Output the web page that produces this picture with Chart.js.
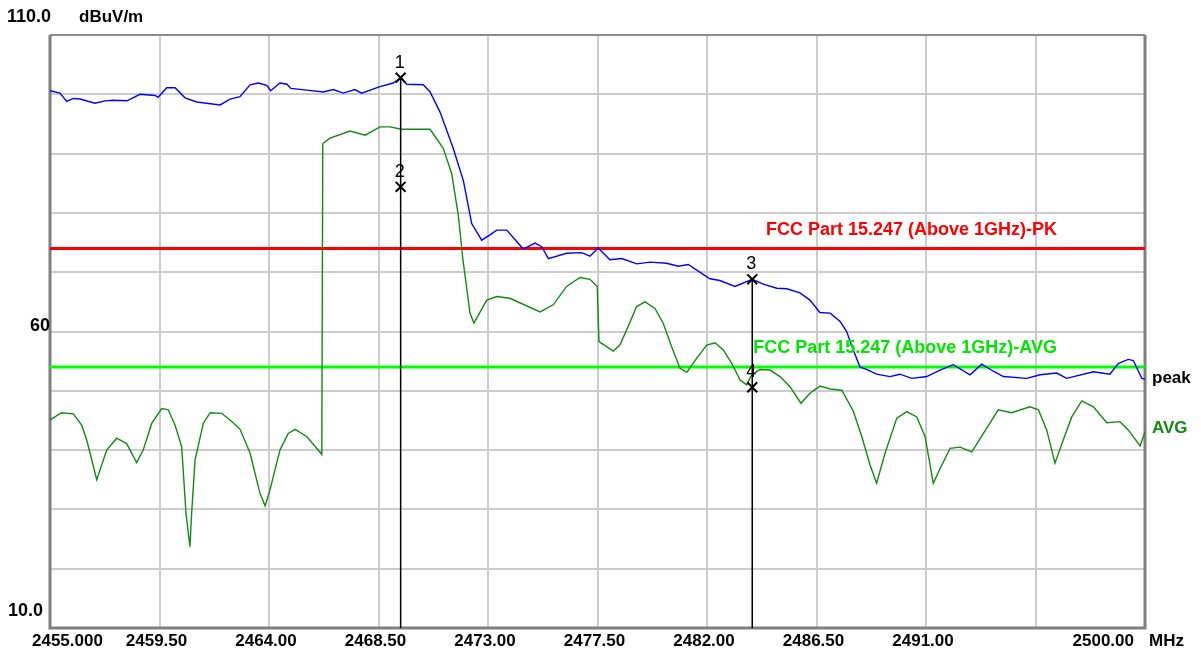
<!DOCTYPE html>
<html>
<head>
<meta charset="utf-8">
<script src="https://cdn.jsdelivr.net/npm/chart.js@4.4.1/dist/chart.umd.min.js"></script>
<style>
  html, body { margin: 0; padding: 0; background: #fff; }
  #wrap { width: 1201px; height: 655px; }
</style>
</head>
<body>
<div id="wrap"><canvas id="scan" width="1201" height="655"></canvas></div>
<script>
// peak detector trace (MHz / dBuV/m)
const peakFreq = [
  2455.00, 2455.41, 2455.69, 2455.96, 2456.23, 2456.85, 2457.26, 2457.59, 2458.16, 2458.70,
  2459.32, 2459.44, 2459.80, 2460.14, 2460.55, 2461.03, 2461.99, 2462.40, 2462.81, 2463.22,
  2463.56, 2463.91, 2464.07, 2464.45, 2464.74, 2464.90, 2465.55, 2466.23, 2466.64, 2467.05,
  2467.53, 2467.81, 2468.56, 2469.11, 2469.41, 2469.66, 2470.34, 2470.62, 2471.03, 2471.57,
  2471.99, 2472.33, 2472.74, 2473.08, 2473.36, 2473.77, 2474.45, 2474.93, 2475.21, 2475.48,
  2476.23, 2476.85, 2477.19, 2477.53, 2478.01, 2478.50, 2479.11, 2479.66, 2480.34, 2480.82,
  2481.23, 2481.78, 2482.12, 2482.53, 2483.15, 2483.86, 2484.31, 2484.87, 2485.28, 2485.82,
  2486.23, 2486.64, 2487.06, 2487.47, 2487.74, 2488.01, 2488.29, 2488.56, 2488.97, 2489.52,
  2489.93, 2490.41, 2491.03, 2491.58, 2492.12, 2492.81, 2493.29, 2493.77, 2494.18, 2495.14,
  2495.69, 2496.37, 2496.78, 2497.88, 2498.56, 2498.90, 2499.31, 2499.52, 2499.87, 2500.00
];
const peakLevel = [
  100.6, 100.2, 98.8, 99.3, 99.2, 98.5, 98.9, 99.0, 98.9, 100.0,
  99.8, 99.5, 101.1, 101.1, 99.4, 98.7, 98.2, 99.2, 99.6, 101.6,
  101.9, 101.5, 100.6, 101.9, 101.7, 101.0, 100.7, 100.4, 100.8, 100.2,
  100.8, 100.2, 101.3, 101.9, 102.8, 101.7, 101.6, 100.4, 97.0, 90.9,
  85.4, 78.2, 75.4, 76.3, 77.1, 77.1, 73.9, 74.9, 74.3, 72.3,
  73.2, 73.3, 72.7, 74.1, 72.1, 72.3, 71.4, 71.7, 71.5, 71.0,
  71.3, 69.8, 68.9, 68.6, 67.6, 68.8, 68.0, 67.3, 67.2, 66.5,
  65.3, 63.2, 63.1, 61.7, 60.0, 56.9, 54.0, 53.6, 52.8, 52.4,
  52.8, 52.1, 52.4, 53.5, 54.4, 52.7, 54.5, 53.3, 52.4, 52.1,
  52.7, 53.0, 52.1, 53.2, 52.8, 54.6, 55.3, 55.1, 52.1, 52.0
];

// average detector trace
const avgFreq = [
  2455.00, 2455.48, 2455.96, 2456.30, 2456.51, 2456.92, 2457.33, 2457.74, 2458.15, 2458.56,
  2458.83, 2459.18, 2459.59, 2459.86, 2460.14, 2460.41, 2460.59, 2460.75, 2460.82, 2460.96,
  2461.30, 2461.58, 2462.06, 2462.53, 2462.81, 2463.22, 2463.63, 2463.84, 2464.04, 2464.45,
  2464.79, 2465.07, 2465.55, 2466.17, 2466.21, 2466.51, 2467.33, 2467.95, 2468.56, 2468.97,
  2469.45, 2470.62, 2471.16, 2471.51, 2471.78, 2471.97, 2472.26, 2472.42, 2472.95, 2473.36,
  2473.90, 2475.14, 2475.68, 2476.23, 2476.78, 2477.19, 2477.49, 2477.56, 2478.15, 2478.42,
  2478.70, 2479.11, 2479.45, 2479.86, 2480.20, 2480.55, 2480.89, 2481.17, 2481.58, 2481.99,
  2482.33, 2482.67, 2483.02, 2483.36, 2483.63, 2483.84, 2484.18, 2484.59, 2485.00, 2485.41,
  2485.86, 2486.23, 2486.64, 2487.06, 2487.54, 2488.01, 2488.36, 2488.70, 2488.97, 2489.32,
  2489.80, 2490.21, 2490.62, 2490.96, 2491.30, 2491.58, 2491.99, 2492.40, 2492.88, 2493.36,
  2493.97, 2494.52, 2495.27, 2495.62, 2495.96, 2496.30, 2496.64, 2496.99, 2497.40, 2497.88,
  2498.43, 2498.97, 2499.31, 2499.80, 2500.00
];
const avgLevel = [
  45.1, 46.3, 46.1, 44.2, 41.7, 35.0, 40.0, 42.0, 41.1, 37.9,
  40.0, 44.5, 47.0, 46.8, 44.2, 40.6, 29.3, 23.7, 29.3, 38.3,
  44.5, 46.3, 46.2, 44.6, 43.5, 39.5, 32.7, 30.6, 33.3, 40.0,
  42.8, 43.5, 42.3, 39.3, 91.7, 92.6, 93.8, 93.1, 94.5, 94.5,
  94.1, 94.1, 90.9, 86.6, 79.6, 72.1, 63.1, 61.4, 65.3, 65.9,
  65.6, 63.3, 64.5, 67.6, 69.1, 68.8, 67.6, 58.3, 56.7, 57.7,
  60.3, 64.2, 65.0, 63.9, 61.4, 57.4, 53.8, 53.1, 55.5, 57.7,
  58.1, 56.9, 54.6, 51.8, 51.0, 52.7, 53.6, 53.5, 52.4, 50.7,
  47.9, 49.6, 50.8, 50.3, 50.1, 46.6, 42.3, 37.5, 34.4, 39.5,
  45.4, 46.5, 45.6, 42.3, 34.4, 36.9, 40.3, 40.5, 39.7, 42.8,
  46.8, 46.3, 47.3, 46.8, 43.4, 37.8, 41.7, 45.6, 48.3, 47.3,
  44.6, 44.8, 43.4, 40.7, 43.1
];

// FCC 15.247 limits above 1 GHz
const limitPK = 74;
const limitAVG = 54;
const limitPKText = "FCC Part 15.247 (Above 1GHz)-PK";
const limitAVGText = "FCC Part 15.247 (Above 1GHz)-AVG";

// markers
const markerNo = ["1", "2", "3", "4"];
const markerFreq = [2469.41, 2469.41, 2483.86, 2483.86];
const markerLevel = [102.8, 84.4, 68.8, 50.6];

const freqTicks = [2455, 2459.5, 2464, 2468.5, 2473, 2477.5, 2482, 2486.5, 2491, 2495.5, 2500];
const levelTicks = [10, 20, 30, 40, 50, 60, 70, 80, 90, 100, 110];

const FONT = "'Liberation Sans', Arial, sans-serif";
const fMin = freqTicks[0], fMax = freqTicks[freqTicks.length - 1];

const pts = (xs, ys) => xs.map((f, i) => ({ x: f, y: ys[i] }));

// one vertical line per marker position, from the top marker down to the floor
const markerLines = [];
[...new Set(markerFreq)].forEach(f => {
  const top = Math.max(...markerLevel.filter((_, i) => markerFreq[i] === f));
  markerLines.push([{ x: f, y: top }, { x: f, y: levelTicks[0] }]);
});

const datasets = [
  {
    label: "markers", data: pts(markerFreq, markerLevel), showLine: false,
    pointStyle: "crossRot", pointRadius: 7, borderColor: "#000", borderWidth: 2, order: 0
  },
  ...markerLines.map(d => ({
    label: "marker line", data: d, borderColor: "#000", borderWidth: 1.5, pointRadius: 0, order: 1
  })),
  { label: "peak", data: pts(peakFreq, peakLevel), borderColor: "#0000ff", borderWidth: 1.4, pointRadius: 0, order: 2 },
  { label: "AVG", data: pts(avgFreq, avgLevel), borderColor: "#128a12", borderWidth: 1.4, pointRadius: 0, order: 3 },
  { label: "pk limit", data: [{ x: fMin, y: limitPK }, { x: fMax, y: limitPK }], borderColor: "#ff0000", borderWidth: 3, pointRadius: 0, order: 4 },
  { label: "avg limit", data: [{ x: fMin, y: limitAVG }, { x: fMax, y: limitAVG }], borderColor: "#00ff00", borderWidth: 3, pointRadius: 0, order: 5 }
];

function text(ctx, s, x, y, opts) {
  ctx.save();
  ctx.font = (opts.weight || "bold") + " " + (opts.size || 17) + "px " + FONT;
  ctx.fillStyle = opts.color || "#000";
  ctx.textAlign = opts.align || "left";
  ctx.textBaseline = "middle";
  ctx.fillText(s, x, y);
  ctx.restore();
}

const annotate = {
  id: "annotate",
  beforeDatasetsDraw(chart) {
    const { ctx, chartArea: a } = chart;
    ctx.save();
    ctx.strokeStyle = "#8c8c8c";
    ctx.lineWidth = 2;
    ctx.beginPath();
    ctx.moveTo(a.left, a.top); ctx.lineTo(a.right, a.top);
    ctx.stroke();
    ctx.strokeStyle = "#7f7f7f";
    ctx.lineWidth = 3;
    ctx.beginPath();
    ctx.moveTo(a.left, a.top); ctx.lineTo(a.left, a.bottom);
    ctx.lineTo(a.right, a.bottom); ctx.lineTo(a.right, a.top);
    ctx.stroke();
    ctx.restore();
  },
  afterDraw(chart) {
    const { ctx, chartArea: a, scales: { x, y } } = chart;

    // level axis
    text(ctx, "110.0", 7, 17, { size: 18 });
    text(ctx, "dBuV/m", 79, 17, {});
    text(ctx, "60", 50, y.getPixelForValue(60) - 5, { align: "right", size: 18 });
    text(ctx, "10.0", 8, y.getPixelForValue(10) - 17, { size: 18 });

    // frequency axis
    const ty = a.bottom + 13;
    freqTicks.forEach((f, i) => {
      const px = x.getPixelForValue(f);
      if (i === 0) text(ctx, f.toFixed(3), 32, ty, {});
      else if (i === freqTicks.length - 1) text(ctx, f.toFixed(2), px - 11, ty, { align: "right" });
      else if (i < freqTicks.length - 2) text(ctx, f.toFixed(2), px - 3, ty, { align: "center" });
    });
    text(ctx, "MHz", a.right + 4, ty, {});

    // limit captions
    text(ctx, limitPKText, 1057, y.getPixelForValue(limitPK) - 18, { color: "#ff0000", size: 18, align: "right" });
    text(ctx, limitAVGText, 1057, y.getPixelForValue(limitAVG) - 19, { color: "#00e600", size: 18, align: "right" });

    // trace names at the right end
    text(ctx, "peak", a.right + 7, y.getPixelForValue(peakLevel[peakLevel.length - 1]) - 1, {});
    text(ctx, "AVG", a.right + 7, y.getPixelForValue(avgLevel[avgLevel.length - 1]) - 3, { color: "#128a12" });

    // marker numbers
    markerNo.forEach((n, i) => {
      text(ctx, n, x.getPixelForValue(markerFreq[i]) - 1, y.getPixelForValue(markerLevel[i]) - 15,
        { weight: "normal", size: 18, align: "center" });
    });
  }
};

new Chart(document.getElementById("scan"), {
  type: "line",
  data: { datasets },
  options: {
    responsive: false,
    animation: false,
    events: [],
    layout: { padding: { left: 50, top: 35, right: 56, bottom: 27 } },
    elements: { line: { tension: 0 } },
    plugins: { legend: { display: false }, tooltip: { enabled: false } },
    scales: {
      x: {
        type: "linear", min: fMin, max: fMax,
        afterBuildTicks: s => { s.ticks = freqTicks.map(v => ({ value: v })); },
        ticks: { display: false },
        grid: { color: "#cccccc", lineWidth: 2, drawTicks: false },
        border: { display: false }
      },
      y: {
        type: "linear", min: levelTicks[0], max: levelTicks[levelTicks.length - 1],
        afterBuildTicks: s => { s.ticks = levelTicks.map(v => ({ value: v })); },
        ticks: { display: false },
        grid: { color: "#cccccc", lineWidth: 2, drawTicks: false },
        border: { display: false }
      }
    }
  },
  plugins: [annotate]
});
</script>
</body>
</html>
